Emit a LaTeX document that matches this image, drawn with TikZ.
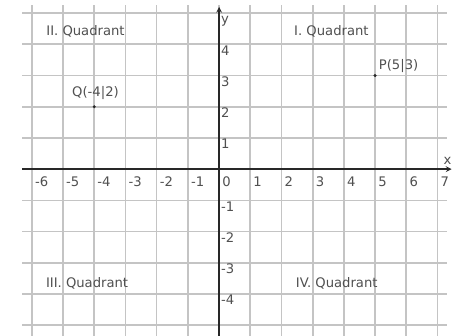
\documentclass[tikz,border=0pt]{standalone}
\usepackage{fontspec}
\setmainfont{DejaVu Sans}
\definecolor{gridgray}{RGB}{196,196,196}
\definecolor{textgray}{RGB}{80,80,80}
\definecolor{axisgray}{RGB}{40,40,40}
\begin{document}
\begin{tikzpicture}[>=stealth,x=1cm,y=1cm,
    lbl/.style={text=textgray,font=\fontsize{12}{14}\selectfont,inner sep=1pt},
    dot/.style={circle,fill=axisgray,inner sep=0pt,minimum size=3pt}]
  \fill[white] (-7.02,-5.32) rectangle (7.56,5.42);
  \useasboundingbox (-7.02,-5.32) rectangle (7.56,5.42);
  % Gitter
  \draw[color=gridgray,line width=1.5pt] (-6.3,-5.4) grid (7.3,5.25);
  % Achsen
  \draw[->,color=axisgray,line width=1.3pt] (-6.3,0) -- (7.45,0);
  \draw[->,color=axisgray,line width=1.3pt] (0,-5.4) -- (0,5.2);
  \node[lbl,anchor=south] (xlab) at (7.32,0.1) {x};
  \node[lbl,anchor=north west] (ylab) at (0.02,4.93) {y};
  \foreach \i in {-6,...,7}
    \node[lbl,anchor=north west] (xn\i) at (\i+0.06,-0.2) {\i};
  \foreach \j in {-4,-3,-2,-1,1,2,3,4}
    \node[lbl,anchor=north west] (yn\j) at (0.02,\j) {\j};
  % Quadranten
  \node[lbl] (q2) at (-4.28,4.42) {II. Quadrant};
  \node[lbl] (q1) at (3.6,4.42) {I. Quadrant};
  \node[lbl] (q3) at (-4.23,-3.65) {III. Quadrant};
  \node[lbl] (q4) at (3.77,-3.65) {IV. Quadrant};
  % Punkte
  \node[dot] (P) at (5,3) {};
  \node[dot] (Q) at (-4,2) {};
  \node[lbl,anchor=south west] (Plab) at (5.08,3.05) {P(5|3)};
  \node[lbl,anchor=south] (Qlab) at (-3.96,2.18) {Q(-4|2)};
\end{tikzpicture}
\end{document}
